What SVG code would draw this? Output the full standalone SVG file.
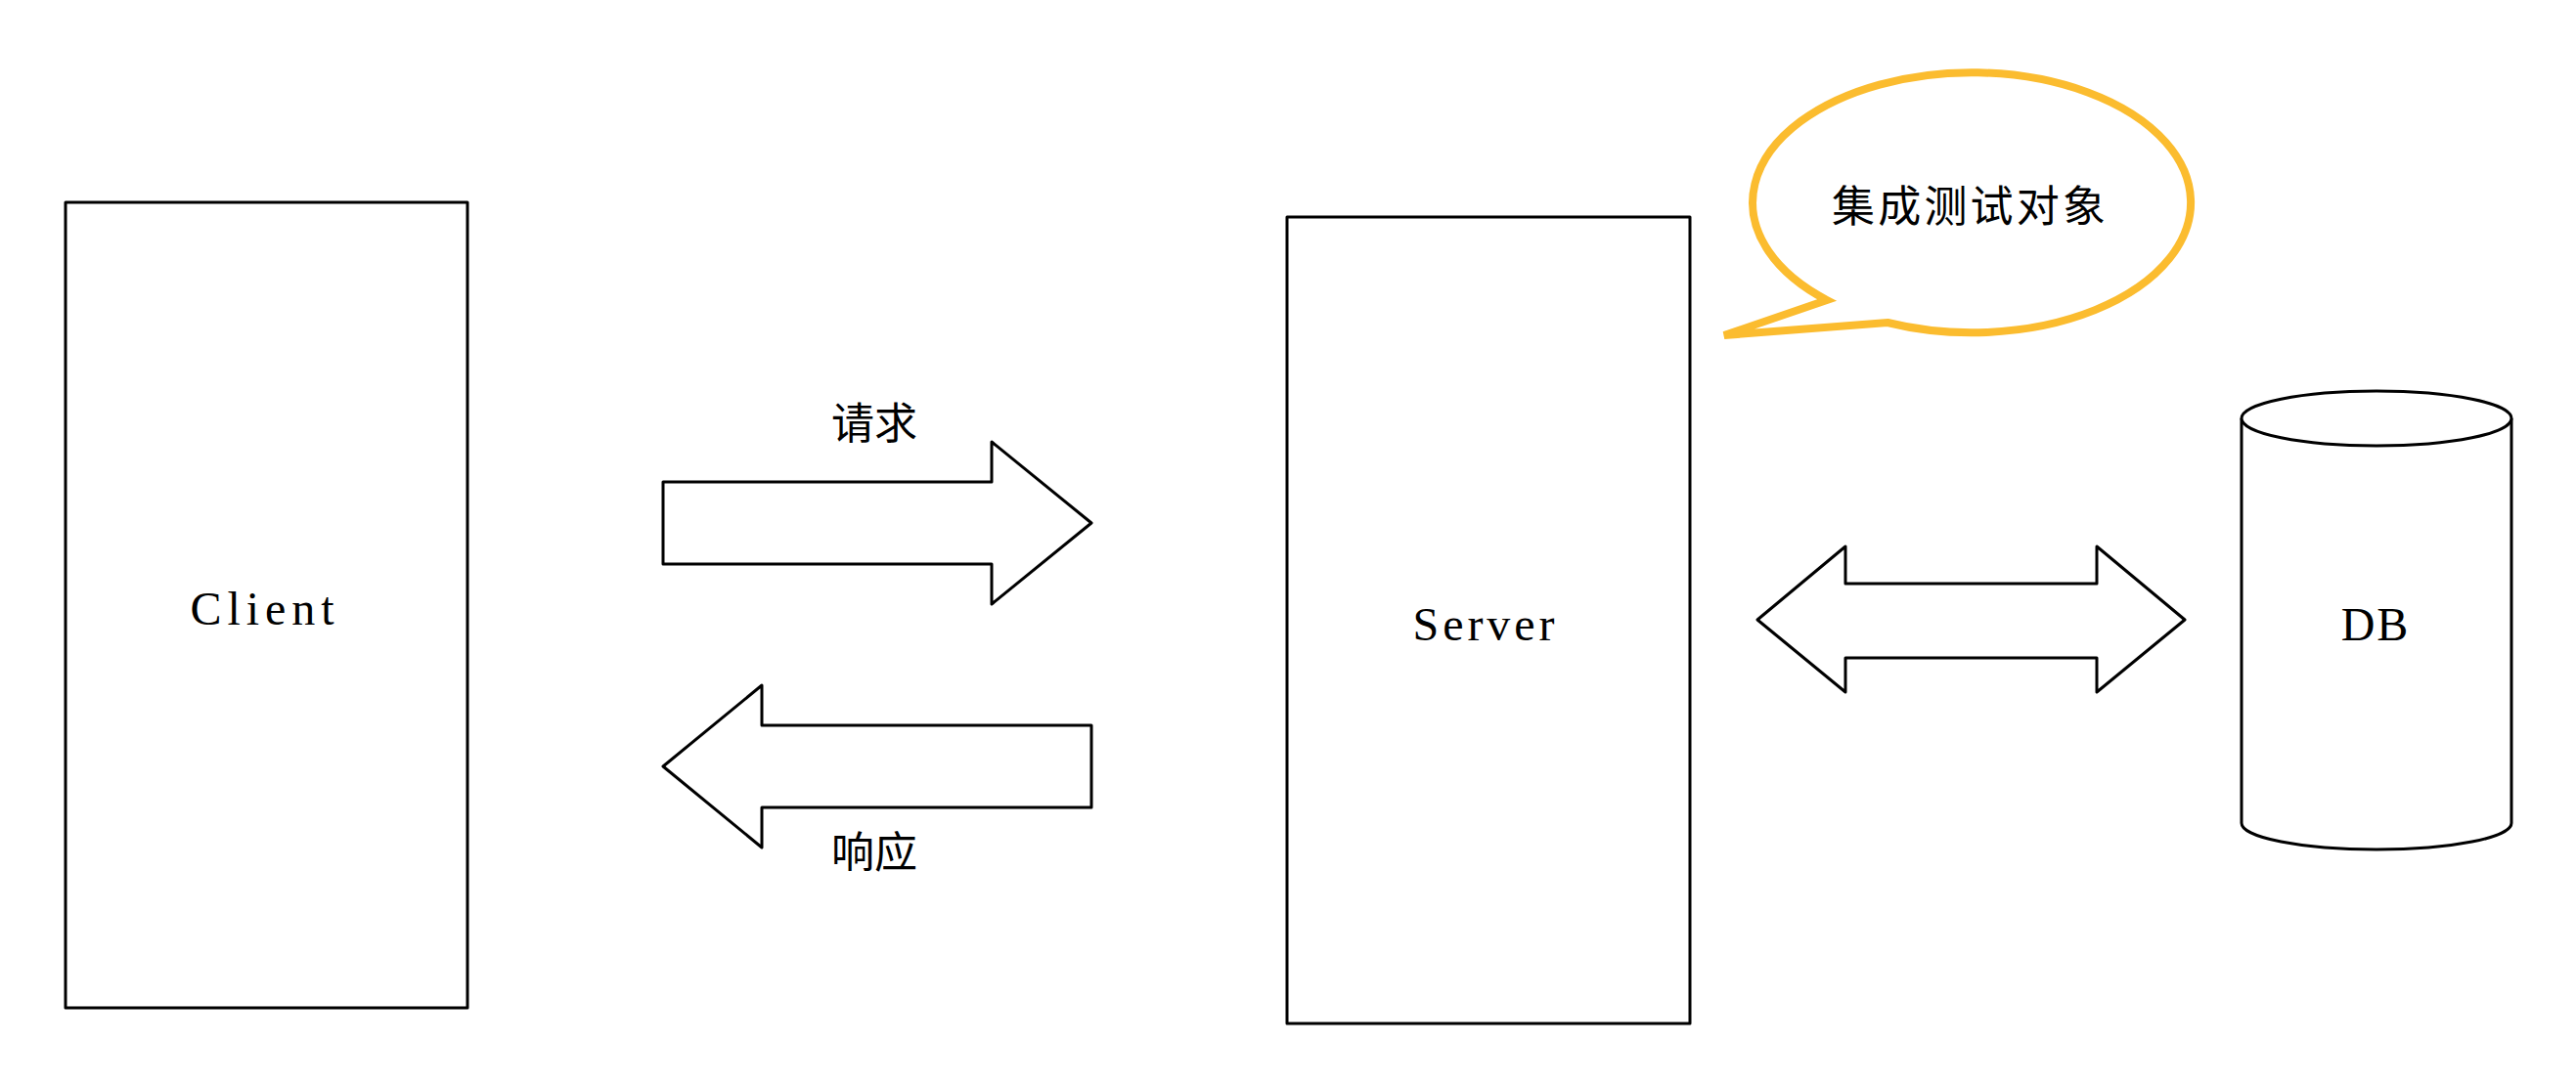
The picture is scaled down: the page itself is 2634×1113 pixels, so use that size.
<svg xmlns="http://www.w3.org/2000/svg" width="2634" height="1113" viewBox="0 0 2634 1113">
<style>
.box{fill:#fff;stroke:#000;stroke-width:3;stroke-linejoin:round}
.lat{font-family:"Liberation Serif",serif;font-size:48px;fill:#000;text-anchor:middle}
.cjk{font-family:"Noto Sans CJK SC",sans-serif;font-size:44px;fill:#000;text-anchor:middle}
</style>
<rect width="2634" height="1113" fill="#fff"/>
<g id="client">
<rect class="box" x="67" y="207" width="411" height="824"/>
<text class="lat" x="268" y="639" textLength="147" lengthAdjust="spacing">Client</text>
</g>
<g id="server">
<rect class="box" x="1316" y="222" width="412" height="825"/>
<text class="lat" x="1517" y="655" textLength="145" lengthAdjust="spacing">Server</text>
</g>
<g id="db">
<path class="box" d="M2292,428 L2292,842 A138,27 0 0 0 2568,842 L2568,428"/>
<ellipse class="box" cx="2430" cy="428" rx="138" ry="28"/>
<text class="lat" x="2429" y="655" font-size="46" letter-spacing="2">DB</text>
</g>
<g id="callout">
<path d="M1868,307 A224,133 0 1 1 1930,330 L1763,343 Z" fill="#fff" stroke="#FBBC2F" stroke-width="8" stroke-linejoin="miter"/>
<text class="cjk" x="2013" y="227" textLength="280" lengthAdjust="spacing">集成测试对象</text>
</g>
<g id="connectors">
<g id="request">
<polygon class="box" points="678,493 1014,493 1014,452 1116,535 1014,618 1014,577 678,577"/>
<text class="cjk" x="894" y="449">请求</text>
</g>
<g id="response">
<polygon class="box" points="1116,742 779,742 779,701 678,784 779,867 779,826 1116,826"/>
<text class="cjk" x="894" y="888">响应</text>
</g>
<g id="server-db">
<polygon class="box" points="1797,634 1887,559 1887,597 2144,597 2144,559 2234,634 2144,708 2144,673 1887,673 1887,708"/>
</g>
</g>
</svg>
